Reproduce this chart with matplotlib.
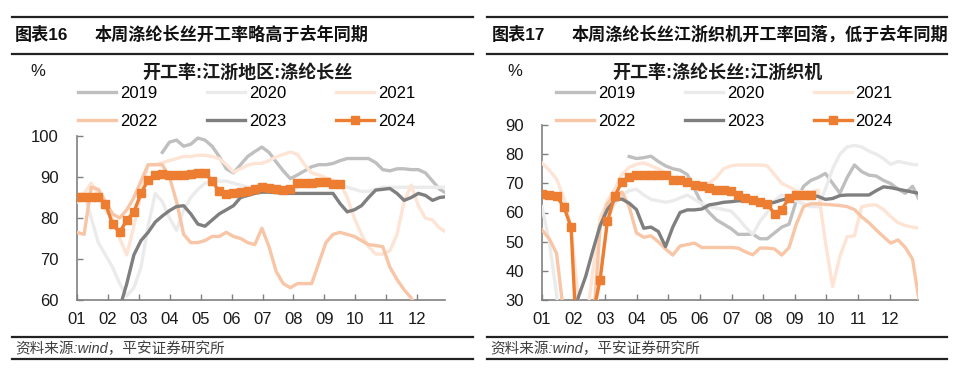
import numpy as np
import matplotlib
matplotlib.use("Agg")
import matplotlib.pyplot as plt
from matplotlib.lines import Line2D

plt.rcParams['font.family'] = ['Liberation Sans', 'Noto Sans CJK SC', 'DejaVu Sans']

# ---------------- data (weekly values, week 1..53) ----------------
years = ['2019', '2020', '2021', '2022', '2023', '2024']
month_labels = ['01', '02', '03', '04', '05', '06', '07', '08', '09', '10', '11', '12']

N = None
L2019 = [N]*12 + [96, 98.5, 99, 97.5, 98, 99.5, 99, 97.5, 95, 92, 91, 93, 95, 96.2, 97.3, 96,
                  93.7, 91.5, 89.6, 90.5, 91.5, 92.5, 93, 93, 93.3, 94, 94.5, 94.5, 94.5, 94.5,
                  93.5, 91.8, 91.5, 92, 92, 91.8, 91.8, 91, 89, 87, 86]
L2020 = [84, 86, 80, 74, 71, 68, 64, 61, 63, 68, 78, 86, 84, 80, 77, 82, 85, 87, 88.5, 89, 89,
         89, 88.5, 88, 87.5, 87.5, 87, 87, 87, 87, 87, 87.5, 88, 88, 88, 88, 88, 88, 87.5, 87,
         86.5, 86.5, 87, 87.5, 87.5, 87.5, 87.5, 87.5, 87.5, 87.5, 87.5, 87.5, 87.5]
L2021 = [84, 86, 88.5, 86, 82, 80, 75, 71, 78, 86, 93, 93, 93.5, 94, 94.5, 95, 95, 95.3, 95.3,
         95, 94.5, 93, 91.2, 92, 92.9, 93.3, 93.3, 94, 94.9, 95.5, 96.1, 95.5, 93, 91, 90.5,
         89.8, 89.2, 88.5, 85, 80, 76, 73, 71.2, 71.2, 72, 76, 84, 88, 83, 80, 79.5, 77.5, 76.5]
L2022 = [76.5, 76, 87.5, 87, 84, 81, 80, 82, 85, 89, 93, 93, 93, 90, 84, 76, 74, 74, 74.5, 75.5,
         75.5, 76.5, 75.5, 75, 74, 73.5, 77.5, 73, 67, 64, 63, 64, 64, 64, 69, 74, 76, 76.5, 76,
         75.5, 74.5, 73.5, 73.3, 73, 68, 65, 62.5, 60.5, 57]
L2023 = [N, N, N, N, N, 52, 58, 64, 71, 74.5, 76.5, 79, 80.5, 81.8, 82.8, 83, 81, 78.5, 78, 79.5,
         81, 82, 83, 85, 85.5, 86, 86.3, 86.3, 86.2, 86, 86, 86, 86, 86, 86, 86, 86, 83.5, 81.5,
         82, 83, 85, 86.8, 87, 87.2, 86, 84.3, 85, 86, 85.5, 84.3, 85, 85.2]
L2024 = [85, 85, 85, 85, 83.5, 78.5, 76.5, 79.5, 81.5, 86, 89.3, 90.5, 90.8, 90.5, 90.5, 90.5,
         90.8, 91, 91, 89, 86.5, 85.8, 86, 86.3, 86.5, 87, 87.5, 87.3, 87, 86.8, 87, 88.5, 88.5,
         88.5, 88.8, 88.8, 88.2, 88.2]

R2019 = [N]*12 + [79.2, 78.5, 78.8, 79.3, 77.5, 76, 75, 74.5, 73, 68, 63, 60, 57.5, 56, 54.5,
                  52.5, 52.5, 52.6, 51, 51, 53, 55, 56, 64, 69, 71, 72, 73.4, 70, 66.6, 72, 76.3,
                  74, 72.8, 72.5, 71, 69.9, 68, 66.6, 69, 64]
R2020 = [62, 50, 32, 10, N, N, N, 15, 40, 57, 63, 66, 67.5, 68, 66, 64.5, 64, 63.5, 64, 65, 66,
         64.5, 63, 62, 61.5, 61, 60.5, 58, 55, 52.5, 57, 60, 64, 66, 65, 64, 63, 62, 62, 68, 75,
         80, 82.5, 83, 82.5, 81, 80, 78.5, 76.5, 77.5, 77, 76.5, 76.3]
R2021 = [77, 74.5, 71.5, 65, 55, 30, 20, 40, 58, 64, 68, 73, 75.5, 76.5, 77, 76, 75, 73.5, 72,
         71, 70.5, 70, 70, 70, 72, 75, 76, 76.3, 76.3, 76.3, 76.3, 76, 73, 70, 68.8, 67.5, 67,
         67, 67.7, 50, 34.6, 45, 51.7, 52, 62, 62.5, 62.6, 61, 58.6, 56.5, 55.5, 55, 54.5]
R2022 = [54, 51, 46, 25, 10, N, N, 20, 55, 63, 66, 67, 62, 53, 51.5, 52, 50, 47.5, 45.4, 48.5,
         49, 49.5, 48, 48, 48, 48, 48, 47.8, 46.5, 45.5, 47.8, 47.8, 47.5, 45.4, 48, 56, 62, 63,
         63, 62.8, 62.6, 62.4, 62, 61, 58.5, 56.5, 54, 51.7, 49.5, 50.6, 48, 44, 28]
R2023 = [N, N, N, N, 20, 31, 38, 47, 55.5, 61, 64.3, 64.6, 63.2, 61, 54.6, 55, 53.5, 48.3, 55, 60,
         60.9, 60.9, 61.2, 62.6, 63, 63.5, 63.7, 64, 64, 64, 63.5, 63.2, 63.5, 64.3, 64.8, 65.4,
         65.8, 66, 65.5, 64.5, 64.8, 65.8, 66, 66, 66, 66, 67.5, 68.8, 68.5, 68, 67.5, 67, 66.5]
R2024 = [66.5, 66, 65.5, 62, 55, 5, 5, 25, 37, 57, 65.5, 70.6, 72.3, 72.8, 73, 73, 73, 73, 71, 71,
         70.6, 69.5, 69, 68.3, 67.8, 67.7, 67.5, 66, 65, 64.3, 63.5, 63, 59.5, 61, 65, 66, 66, 66]

left_series = [L2019, L2020, L2021, L2022, L2023, L2024]
right_series = [R2019, R2020, R2021, R2022, R2023, R2024]

colors = ['#bfbfbf', '#ebebeb', '#fde4d4', '#f8c6a6', '#7f7f7f', '#ed7d31']


def weekly(vals):
    arr = np.array(vals, dtype=float)
    out = np.full(53, np.nan)
    out[:len(arr)] = arr
    return out


weeks = np.arange(53)
xpos = 1 + weeks * 7 / 30.44


def fx(px):
    return px / 960


def fy(py):
    return 1 - py / 379


fig = plt.figure(figsize=(9.6, 3.79), dpi=100)

panels = [
    dict(fig_no='图表16', head='本周涤纶长丝开工率略高于去年同期', title='开工率:江浙地区:涤纶长丝',
         series=left_series, ylim=(60, 100), yt=np.arange(60, 101, 10),
         ax=(77, 445, 136, 300), x0=12, x1=473, head_x=15, body_x=95, title_x=247, pct_x=38,
         leg_x=78),
    dict(fig_no='图表17', head='本周涤纶长丝江浙织机开工率回落，低于去年同期', title='开工率:涤纶长丝:江浙织机',
         series=right_series, ylim=(30, 90), yt=np.arange(30, 91, 10),
         ax=(542, 918, 125, 300), x0=487, x1=947, head_x=492, body_x=572, title_x=717, pct_x=515,
         leg_x=556),
]

for p in panels:
    # header
    fig.add_artist(Line2D([fx(p['x0']), fx(p['x1'])], [fy(17), fy(17)], transform=fig.transFigure,
                          color='#222222', lw=1.6))
    fig.add_artist(Line2D([fx(p['x0']), fx(p['x1'])], [fy(54), fy(54)], transform=fig.transFigure,
                          color='#222222', lw=1.6))
    fig.text(fx(p['head_x']), fy(34), p['fig_no'], fontsize=12.3, fontweight='bold',
             va='center', ha='left', color='#111111')
    fig.text(fx(p['body_x']), fy(34), p['head'], fontsize=12.3, fontweight='bold',
             va='center', ha='left', color='#111111')
    # footer
    fig.add_artist(Line2D([fx(p['x0']), fx(p['x1'])], [fy(337), fy(337)], transform=fig.transFigure,
                          color='#222222', lw=1.6))
    fig.add_artist(Line2D([fx(p['x0']), fx(p['x1'])], [fy(359), fy(359)], transform=fig.transFigure,
                          color='#222222', lw=1.6))
    fig.text(fx(p['x0'] + 3), fy(349), '资料来源:wind，平安证券研究所', fontsize=10.5,
             style='italic', va='center', ha='left', color='#404040')

    # axes
    l, r, t, b = p['ax']
    ax = fig.add_axes([fx(l), fy(b), fx(r) - fx(l), fy(t) - fy(b)])
    for i, (yr, vals) in enumerate(zip(years, p['series'])):
        y = weekly(vals)
        if yr == '2024':
            ax.plot(xpos, y, color=colors[i], lw=2.4, marker='s', markersize=6, label=yr, zorder=10)
        else:
            ax.plot(xpos, y, color=colors[i], lw=2.4, label=yr, zorder=2 + i)
    ax.set_xlim(1, 12.9)
    ax.set_ylim(*p['ylim'])
    ax.set_yticks(p['yt'])
    ax.set_xticks(np.arange(1, 13))
    ax.set_xticklabels(month_labels)
    for s in ['top', 'right']:
        ax.spines[s].set_visible(False)
    for s in ['left', 'bottom']:
        ax.spines[s].set_color('#808080')
        ax.spines[s].set_linewidth(1.2)
    ax.tick_params(axis='both', direction='in', length=4, width=1.0, color='#808080',
                   labelsize=12, labelcolor='#1a1a1a')
    ax.tick_params(axis='y', pad=13)
    ax.tick_params(axis='x', pad=9)

    fig.text(fx(p['pct_x']), fy(72), '%', fontsize=12, ha='center', va='center', color='#1a1a1a')
    fig.text(fx(p['title_x']), fy(73), p['title'], fontsize=13, fontweight='bold',
             ha='center', va='center', color='#1a1a1a')

    handles, labels = ax.get_legend_handles_labels()
    # legend fills column-first; reorder so rows read 2019 2020 2021 / 2022 2023 2024
    order = [0, 3, 1, 4, 2, 5]
    fig.legend([handles[k] for k in order], [labels[k] for k in order], ncol=3, loc='upper left',
               bbox_to_anchor=(fx(p['leg_x']), fy(86)), frameon=False,
               fontsize=12, handlelength=2.3, handletextpad=0.2, columnspacing=3.0,
               labelspacing=0.75, borderpad=0, borderaxespad=0)

fig.savefig('out.png', dpi=100)
